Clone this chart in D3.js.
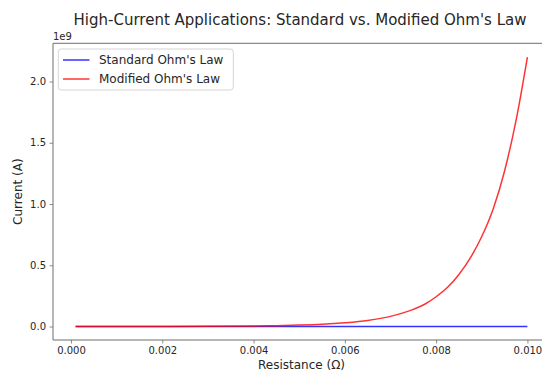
<!DOCTYPE html>
<html>
<head>
<meta charset="utf-8">
<script src="https://cdn.jsdelivr.net/npm/d3@7"></script>
<style>
  html, body { margin: 0; padding: 0; background: #fff; }
  svg { display: block; font-family: "DejaVu Sans", sans-serif; }
</style>
</head>
<body>
<svg id="chart" width="542" height="372"></svg>
<script>
// ---- Data ----
const resistance = [0.0001, 0.001, 0.002, 0.003, 0.004, 0.0045, 0.005, 0.0055, 0.006, 0.0065,
                    0.007, 0.0075, 0.00775, 0.008, 0.00825, 0.0085, 0.00875, 0.009, 0.00925,
                    0.0095, 0.00975, 0.01];
// Current in amperes
const standardCurrent = [1.2e5, 1.2e4, 6.0e3, 4.0e3, 3.0e3, 2.7e3, 2.4e3, 2.2e3, 2.0e3, 1.8e3,
                         1.7e3, 1.6e3, 1.55e3, 1.5e3, 1.45e3, 1.4e3, 1.35e3, 1.3e3, 1.3e3,
                         1.3e3, 1.2e3, 1.2e3];
const modifiedCurrent = [1.2e5, 1.0e5, 3.1e5, 1.25e6, 4.1e6, 7.2e6, 1.15e7, 1.85e7, 3.1e7, 5.0e7,
                         8.3e7, 1.4e8, 1.82e8, 2.43e8, 3.2e8, 4.25e8, 5.6e8, 7.35e8, 9.6e8,
                         1.27e9, 1.68e9, 2.2e9];
const xTicks = [0, 0.002, 0.004, 0.006, 0.008, 0.010];
const yTicks = [0, 0.5e9, 1.0e9, 1.5e9, 2.0e9];
const seriesNames = ["Standard Ohm's Law", "Modified Ohm's Law"];
const seriesColors = ["#0000ff", "#ff0000"];

const title = "High-Current Applications: Standard vs. Modified Ohm's Law";
const xLabel = "Resistance (\u03A9)";
const yLabel = "Current (A)";

// ---- Layout ----
const svg = d3.select("#chart");
const pLeft = 53, pRight = 550, pTop = 43.3, pBottom = 340;

const x = d3.scaleLinear().domain([-0.000395, 0.010495]).range([pLeft, pRight]);
const y = d3.scaleLinear().domain([-0.110e9, 2.312e9]).range([pBottom, pTop]);

const textColor = "#262626";
const spineColor = "#6e6e6e";

svg.append("defs").append("clipPath").attr("id", "clip")
  .append("rect").attr("x", pLeft).attr("y", pTop).attr("width", pRight - pLeft).attr("height", pBottom - pTop);

// Lines
const line = (vals) => d3.line()
  .x((d, i) => x(resistance[i]))
  .y(d => y(d))
  .curve(d3.curveMonotoneX)(vals);

const plot = svg.append("g").attr("clip-path", "url(#clip)");
plot.append("path").attr("d", line(standardCurrent))
  .attr("fill", "none").attr("stroke", seriesColors[0]).attr("stroke-opacity", 0.8).attr("stroke-width", 1.5);
plot.append("path").attr("d", line(modifiedCurrent))
  .attr("fill", "none").attr("stroke", seriesColors[1]).attr("stroke-opacity", 0.8).attr("stroke-width", 1.5);

// Axes
const xAxis = d3.axisBottom(x).tickValues(xTicks).tickFormat(d => d.toFixed(3)).tickSizeOuter(0).tickSize(3.5).tickPadding(3.5);
const yAxis = d3.axisLeft(y).tickValues(yTicks).tickFormat(d => (d / 1e9).toFixed(1)).tickSizeOuter(0).tickSize(3.5).tickPadding(3.5);

const gx = svg.append("g").attr("transform", `translate(0,${pBottom})`).call(xAxis);
const gy = svg.append("g").attr("transform", `translate(${pLeft},0)`).call(yAxis);
[gx, gy].forEach(g => {
  g.select(".domain").remove();
  g.selectAll(".tick line").attr("stroke", spineColor).attr("stroke-width", 0.8);
  g.selectAll(".tick text").attr("fill", textColor).style("font-size", "10px").style("font-family", "DejaVu Sans");
});

// Spines
const spines = svg.append("g").attr("stroke", spineColor).attr("stroke-width", 1).attr("fill", "none");
spines.append("line").attr("x1", pLeft).attr("x2", pLeft).attr("y1", pTop).attr("y2", pBottom);
spines.append("line").attr("x1", pLeft).attr("x2", pRight).attr("y1", pBottom).attr("y2", pBottom);
spines.append("line").attr("x1", pLeft).attr("x2", pRight).attr("y1", pTop).attr("y2", pTop);
spines.append("line").attr("x1", pRight).attr("x2", pRight).attr("y1", pTop).attr("y2", pBottom);

// Offset text
svg.append("text").attr("x", pLeft).attr("y", 40).attr("fill", textColor)
  .style("font-size", "10px").text("1e9");

// Title
svg.append("text").attr("x", 300).attr("y", 25).attr("text-anchor", "middle")
  .attr("fill", textColor).style("font-size", "15px").text(title);

// Axis labels
svg.append("text").attr("x", (pLeft + pRight) / 2).attr("y", 368.5).attr("text-anchor", "middle")
  .attr("fill", textColor).style("font-size", "12px").text(xLabel);
svg.append("text").attr("transform", `translate(22,${(pTop + pBottom) / 2}) rotate(-90)`)
  .attr("text-anchor", "middle").attr("fill", textColor).style("font-size", "12px").text(yLabel);

// Legend
const lg = svg.append("g");
lg.append("rect").attr("x", 58.3).attr("y", 49).attr("width", 175).attr("height", 41)
  .attr("rx", 3).attr("fill", "#fff").attr("fill-opacity", 0.8).attr("stroke", "#d5d5d5").attr("stroke-width", 1);
seriesNames.forEach((name, i) => {
  const yy = 60 + i * 19;
  lg.append("line").attr("x1", 63).attr("x2", 89.5).attr("y1", yy).attr("y2", yy)
    .attr("stroke", seriesColors[i]).attr("stroke-opacity", 0.8).attr("stroke-width", 1.5);
  lg.append("text").attr("x", 99).attr("y", yy + 4.3).attr("fill", textColor)
    .style("font-size", "12px").text(name);
});
</script>
</body>
</html>
